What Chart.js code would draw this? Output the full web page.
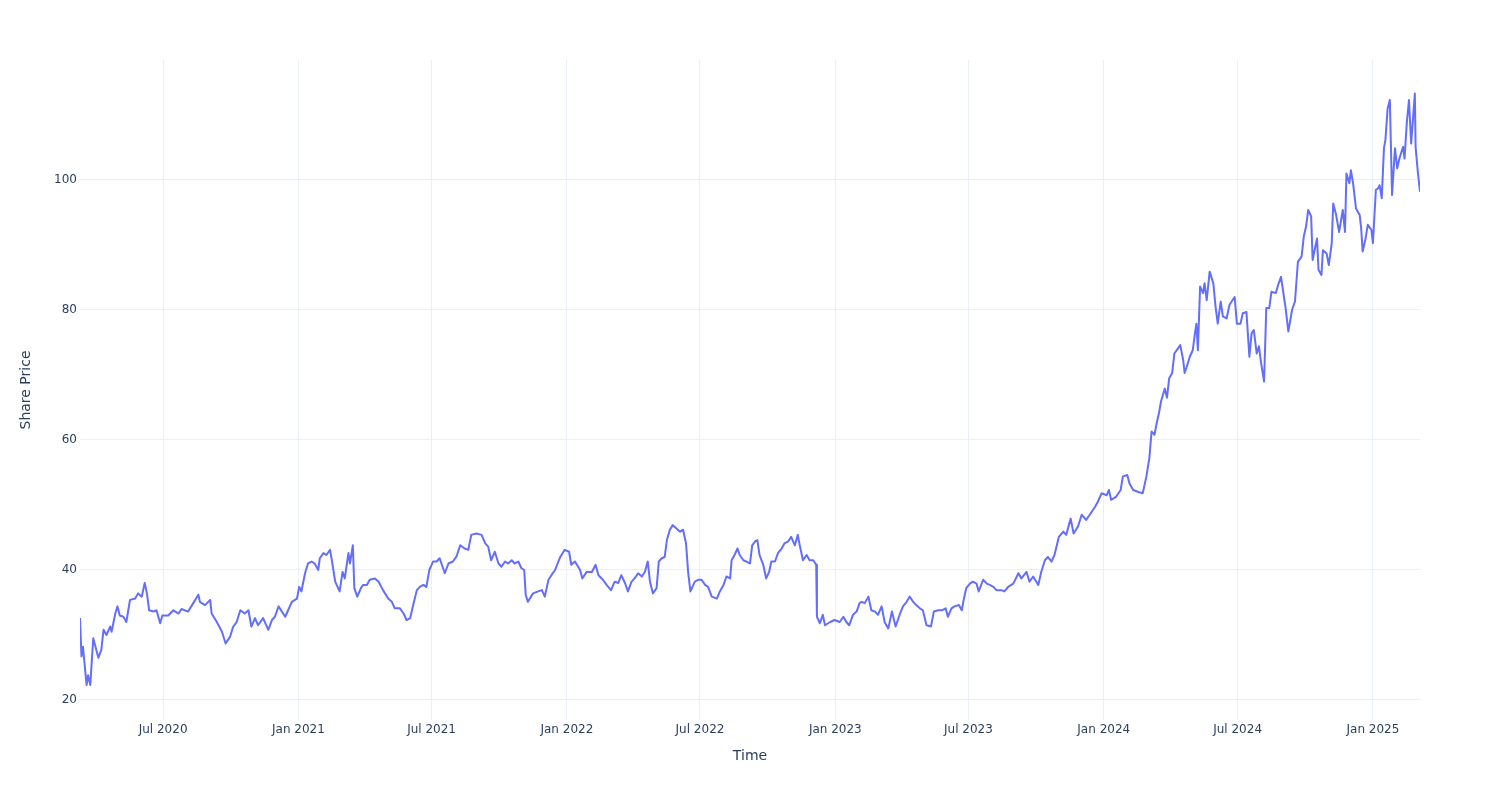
<!DOCTYPE html>
<html>
<head>
<meta charset="utf-8">
<script src="https://cdn.jsdelivr.net/npm/chart.js@4.4.1/dist/chart.umd.min.js"></script>
<style>
  body { margin: 0; background: #fff; }
</style>
</head>
<body>
<canvas id="chart" width="1500" height="800"></canvas>
<script>
// share price: days after the first trading day
const startDate = '2020-03-10';
const dayOffsets = [
  0,2,4,9,11,14,18,25,29,32,36,41,43,48,51,54,59,63,68,75,79,84,88,91,94,100,104,109,112,120,
  127,134,138,147,154,161,163,170,177,179,186,193,198,204,208,213,218,224,229,233,238,242,249,256,261,265,
  270,279,283,288,295,298,301,306,310,315,319,324,326,331,335,340,342,347,351,353,357,360,365,367,371,373,
  377,382,385,390,394,401,406,412,419,424,428,435,440,444,449,452,458,462,467,471,475,480,485,489,496,501,
  507,512,517,523,
  528,532,539,546,551,555,559,564,569,573,578,582,587,591,596,600,604,606,609,616,623,628,632,637,641,646,
  653,659,665,668,673,680,683,689,696,701,705,711,716,722,727,732,736,741,745,750,754,759,764,768,772,775,
  779,784,787,791,795,
  798,802,806,811,816,820,824,827,830,836,841,845,850,854,859,866,870,875,879,884,886,890,894,897,902,906,
  911,914,918,921,924,929,933,937,940,945,949,954,958,963,967,972,976,979,983,988,992,997,1001,1002,1006,
  1010,1013,1020,1026,1033,1038,1042,1046,1051,1056,1060,
  1063,1067,1072,1076,1081,1085,1090,1094,1099,1104,1109,1115,1119,1124,1128,1133,1137,1142,1146,1151,
  1157,1161,1167,1172,1177,1180,1185,1189,1195,1199,1201,1205,1210,1214,1219,1222,1228,1233,1237,1242,
  1246,1253,1257,1262,1269,1276,1280,1287,1291,1296,1303,1307,1312,1316,1321,1325,
  1331,1337,1341,1347,1351,1357,1362,1368,1373,1380,1384,1389,1396,1399,1402,1409,1415,1418,1424,1427,
  1432,1439,1445,1450,1454,1457,1461,1464,1467,1470,1475,1478,1481,1485,1488,1493,1496,1500,1502,1505,
  1509,1513,1516,1518,1520,1523,1527,1529,1532,1536,1541,1544,1547,1551,1554,1559,1563,1567,1570,1573,
  1578,1581,1586,1590,1593,1596,1600,1603,1606,1610,1613,1617,1620,1626,1629,1633,1639,1643,1648,1652,
  1656,1661,1664,1667,1670,1674,1676,1682,1684,1688,1690,1695,1698,1702,1704,1708,1712,1717,1720,1722,
  1726,1728,1731,1735,1740,1742,1744,1748,1751,1756,1758,1762,1765,1767,1770,1773,1775,1778,1781,1784,
  1788,1791,1794,1799,1801,1804,1807,1810,1815,1816,1819,1822
];
const sharePrice = [
  32.6,26.7,28.2,22.3,23.8,22.3,29.5,26.5,27.7,30.8,30,31.3,30.5,33.3,34.4,33,32.8,32,35.4,35.6,
  36.4,35.9,38,36.4,33.8,33.6,33.8,31.8,33,33,33.8,33.3,34,33.6,34.9,36.2,35.1,34.6,35.4,33.3,
  32,30.5,28.7,29.7,31.2,32,33.8,33.3,33.8,31.3,32.6,31.5,32.6,30.8,32.3,32.8,
  34.4,32.8,33.8,35.1,35.6,37.4,36.7,39.5,41,41.3,41,40,41.8,42.6,42.3,43.1,41.8,38.2,37.2,36.7,
  39.7,38.7,42.6,41,43.8,37.2,35.9,37.2,37.7,37.7,38.5,38.7,38.2,36.9,35.6,35.1,34.1,34.1,33.3,32.3,
  32.6,34.1,36.9,37.4,37.7,37.4,40,41.3,41.3,41.8,39.5,41,41.3,42.1,43.8,43.3,
  43.1,45.4,45.6,45.4,44.1,43.6,41.5,42.8,41,40.5,41.3,41,41.5,41,41.3,40.3,40,36.2,35.1,36.4,
  36.7,36.9,35.9,38.5,39.2,40,42,43.1,42.8,40.8,41.3,40,38.7,39.7,39.7,40.8,39.2,38.5,37.7,36.9,
  38.2,38,39.2,38,36.7,38.2,38.7,39.5,39,39.7,41.3,38.2,36.4,37.2,41.3,41.8,42,
  44.6,46.2,46.9,46.4,45.9,46.2,44.1,39.5,36.7,38.2,38.5,38.5,37.7,37.4,35.9,35.6,36.7,37.7,39,38.7,
  41.5,42.3,43.3,42.3,41.5,41.3,41,43.8,44.4,44.6,42.3,40.8,38.7,39.7,41.3,41.3,42.6,43.3,44.1,44.4,
  45.1,43.8,45.4,43.6,41.5,42.3,41.5,41.5,40.8,32.8,31.8,33.1,31.5,32,32.3,32,32.8,32,31.5,33.1,
  33.6,34.9,
  35.1,34.9,35.9,33.8,33.6,33.1,34.4,32,31,33.6,31.3,33.3,34.4,35.1,35.9,35.1,34.6,34.1,33.8,31.5,
  31.3,33.6,33.8,33.8,34.1,32.8,34.1,34.4,34.6,33.8,35.1,37.2,37.9,38.2,37.9,36.7,38.5,37.9,37.7,37.4,
  36.9,36.9,36.7,37.4,37.9,39.5,38.7,39.7,38.2,39,37.7,39.7,41.5,42,41.3,42.3,
  45.1,45.9,45.4,47.9,45.6,46.7,48.5,47.7,48.5,49.7,50.5,51.8,51.5,52.3,50.8,51.3,52.3,54.4,54.6,53.3,
  52.3,52,51.8,54.4,57.2,61.3,60.8,62.6,64.1,66,67.9,66.5,69.5,70.3,73.3,74.1,74.6,72.3,70.3,71.3,
  72.8,73.8,76.4,77.9,73.8,83.6,82.6,84.1,81.5,85.9,84.1,80.5,77.9,81.3,79,78.7,80.8,81.5,82,77.9,
  77.9,79.5,79.7,72.8,76.4,76.9,73.3,74.4,71.8,69,80.3,80.3,82.8,82.6,83.8,85.1,80.5,76.7,80,81.3,
  87.4,88.2,91.3,92.8,95.4,94.4,87.7,91,86.2,85.4,89.2,88.7,86.9,90.3,96.4,94.6,92,95.4,92,101,
  99.5,101.5,99.5,95.6,94.6,92.6,89,91,93.1,92.3,90.3,98.5,98.7,99.2,97.2,104.9,106.2,111,112.3,97.7,
  104.9,101.8,103.3,105.1,103.3,108.7,112.3,105.6,113.3,105.1,101.3,98.2
];
const xTickDates = ['2020-07-01','2021-01-01','2021-07-01','2022-01-01','2022-07-01',
                    '2023-01-01','2023-07-01','2024-01-01','2024-07-01','2025-01-01'];
const xTickLabels = ['Jul 2020','Jan 2021','Jul 2021','Jan 2022','Jul 2022',
                     'Jan 2023','Jul 2023','Jan 2024','Jul 2024','Jan 2025'];
const yTicks = [20, 40, 60, 80, 100];

const DAY = 86400000;
const t0 = Date.parse(startDate);
const points = dayOffsets.map((d, i) => ({ x: t0 + d * DAY, y: sharePrice[i] }));

const textColor = '#2a3f5f';
const gridColor = '#ebf0f8';
Chart.defaults.font.family = '"DejaVu Sans", Verdana, sans-serif';
Chart.defaults.color = textColor;

new Chart(document.getElementById('chart'), {
  type: 'line',
  data: {
    datasets: [{
      label: 'Share Price',
      data: points,
      borderColor: '#636efa',
      borderWidth: 2,
      borderJoinStyle: 'round',
      pointRadius: 0,
      tension: 0,
      fill: false
    }]
  },
  options: {
    responsive: false,
    animation: false,
    devicePixelRatio: 1,
    layout: { padding: { left: 0, right: 80, top: 60, bottom: 0 } },
    plugins: { legend: { display: false }, tooltip: { enabled: false } },
    scales: {
      x: {
        type: 'linear',
        min: points[0].x,
        max: points[points.length - 1].x,
        afterFit: (s) => { s.height = 80; },
        afterBuildTicks: (s) => { s.ticks = xTickDates.map(d => ({ value: Date.parse(d) })); },
        ticks: {
          autoSkip: false,
          maxRotation: 0,
          padding: 3,
          font: { size: 12 },
          callback: (v, i) => xTickLabels[i]
        },
        grid: { color: gridColor, drawTicks: false },
        border: { display: false },
        title: { display: true, text: 'Time', font: { size: 14 }, padding: { top: 0, bottom: 35 } }
      },
      y: {
        min: 16.92,
        max: 118.46,
        afterFit: (s) => { s.width = 80; },
        afterBuildTicks: (s) => { s.ticks = yTicks.map(v => ({ value: v })); },
        ticks: { padding: 3, font: { size: 12 } },
        grid: { color: gridColor, drawTicks: false },
        border: { display: false },
        title: { display: true, text: 'Share Price', font: { size: 14 }, padding: { top: 18, bottom: 0 } }
      }
    }
  }
});
</script>
</body>
</html>
